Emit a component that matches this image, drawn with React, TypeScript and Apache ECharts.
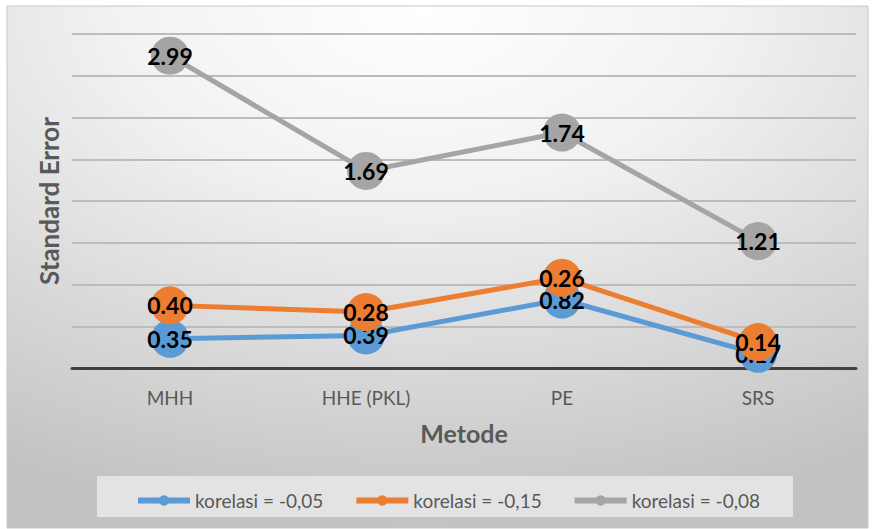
import React, { useEffect, useRef } from "react";
import * as echarts from "echarts";

const categories = ["MHH", "HHE (PKL)", "PE", "SRS"];
const seriesNames = ["korelasi = -0,05", "korelasi = -0,15", "korelasi = -0,08"];
const valuesA = [0.35, 0.39, 0.82, 0.17];
const valuesB = [0.4, 0.28, 0.26, 0.14];
const valuesC = [2.99, 1.69, 1.74, 1.21];
const colors = ["#5B9BD5", "#ED7D31", "#A5A5A5"];

export default function App() {
  const ref = useRef<HTMLDivElement>(null);
  useEffect(() => {
    document.body.style.margin = "0";
    const chart = echarts.init(ref.current!, undefined, { renderer: "svg" });
    const allValues = [valuesA, valuesB, valuesC];
    const series = allValues.map((vals, i) => ({
      name: seriesNames[i],
      type: "line",
      stack: "total",
      data: vals,
      symbol: "circle",
      symbolSize: 38,
      lineStyle: { width: 5, color: colors[i] },
      itemStyle: { color: colors[i] },
      label: {
        show: true,
        position: "inside",
        color: "#000",
        fontFamily: "Lato",
        fontWeight: "bold",
        fontSize: 23,
        formatter: (p: any) => Number(p.value).toFixed(2),
      },
      z: 2 + i,
    }));
    chart.setOption({
      animation: false,
      graphic: [
        {
          type: "rect",
          z: -10,
          silent: true,
          shape: { x: 7, y: 6, width: 861, height: 522 },
          style: {
            fill: {
              type: "radial",
              x: 0.48,
              y: 0.0,
              r: 1.0,
              colorStops: [
                { offset: 0, color: "#ffffff" },
                { offset: 0.35, color: "#f2f2f2" },
                { offset: 1, color: "#c2c2c2" },
              ],
            },
            stroke: "#c8c8c8",
            lineWidth: 1,
          },
        },
        {
          type: "rect",
          z: -9,
          silent: true,
          shape: { x: 97, y: 476, width: 696, height: 41 },
          style: { fill: "#e3e3e3" },
        },
      ],
      grid: { left: 72, right: 16, top: 34, bottom: 161 },
      legend: {
        left: 130,
        top: 486,
        itemWidth: 52,
        itemHeight: 13,
        itemGap: 30,
        lineStyle: { width: 6 },
        textStyle: { fontFamily: "Lato", fontSize: 19, color: "#595959" },
        data: seriesNames,
      },
      xAxis: {
        type: "category",
        data: categories,
        boundaryGap: true,
        name: "Metode",
        nameLocation: "middle",
        nameGap: 52,
        nameTextStyle: { fontFamily: "Lato", fontWeight: "bold", fontSize: 25, color: "#595959" },
        axisLine: { lineStyle: { color: "#404040", width: 3 } },
        axisTick: { show: false },
        axisLabel: { fontFamily: "Lato", fontSize: 19, color: "#595959", margin: 20 },
      },
      yAxis: {
        type: "value",
        min: 0,
        max: 4,
        interval: 0.5,
        name: "Standard Error",
        nameLocation: "middle",
        nameGap: 10,
        nameTextStyle: { fontFamily: "Lato", fontWeight: "bold", fontSize: 26, color: "#595959" },
        axisLabel: { show: false },
        axisLine: { show: false },
        axisTick: { show: false },
        splitLine: { lineStyle: { color: "#bcbcbc", width: 2 } },
      },
      series,
    });
    return () => chart.dispose();
  }, []);
  return <div ref={ref} style={{ width: 872, height: 529 }} />;
}
